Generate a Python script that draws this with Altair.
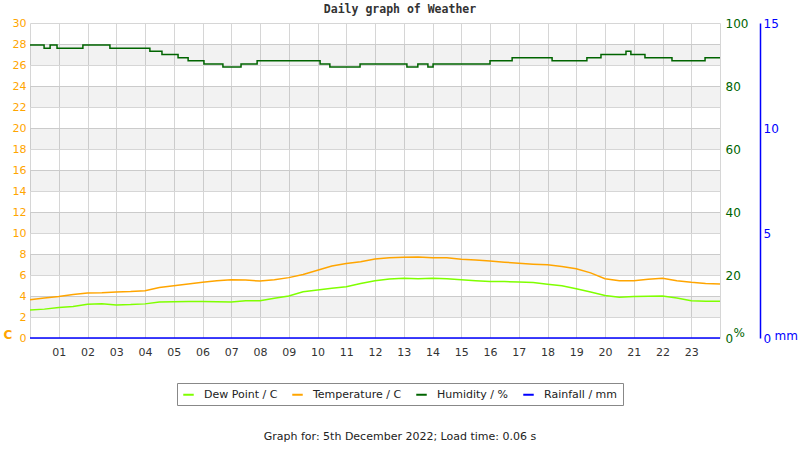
import altair as alt
import pandas as pd

# ---- data ----
half_hours = [i * 0.5 for i in range(49)]
temperature = [3.65, 3.8, 3.95, 4.15, 4.28, 4.3, 4.38, 4.42, 4.5, 4.8, 4.98, 5.15, 5.3, 5.45,
               5.55, 5.52, 5.42, 5.55, 5.75, 6.05, 6.45, 6.85, 7.1, 7.27, 7.52, 7.65, 7.7,
               7.72, 7.65, 7.65, 7.5, 7.42, 7.33, 7.22, 7.12, 7.03, 6.97, 6.8, 6.6, 6.2,
               5.65, 5.45, 5.45, 5.6, 5.68, 5.45, 5.3, 5.2, 5.15]
dew_point = [2.67, 2.75, 2.9, 3.0, 3.22, 3.25, 3.15, 3.18, 3.25, 3.42, 3.45, 3.48, 3.48, 3.45,
             3.43, 3.55, 3.55, 3.78, 4.0, 4.4, 4.57, 4.73, 4.88, 5.2, 5.45, 5.62, 5.68,
             5.65, 5.68, 5.65, 5.55, 5.45, 5.37, 5.37, 5.33, 5.28, 5.12, 4.98, 4.7, 4.38,
             4.05, 3.88, 3.95, 3.97, 4.0, 3.82, 3.55, 3.5, 3.5]
hum_hours = [0, 0.49, 0.70, 0.94, 1.84, 2.78, 4.17, 4.59, 5.15, 5.50, 6.05, 6.71, 7.34, 7.90,
             10.09, 10.43, 11.48, 13.11, 13.49, 13.84, 14.02, 16.0, 16.77, 18.16, 19.37,
             19.86, 20.73, 20.9, 21.39, 22.33, 23.48, 24]
humidity = [93, 92, 93, 92, 93, 92, 91, 90, 89, 88, 87, 86, 87, 88,
            87, 86, 87, 86, 87, 86, 87, 88, 89, 88, 89,
            90, 91, 90, 89, 88, 89, 89]
rain_hours = [0, 24]
rainfall = [0, 0]

series_names = ["Dew Point / C", "Temperature / C", "Humidity / %", "Rainfall / mm"]
series_colors = ["#7fff00", "#ffa500", "#006400", "#0000ff"]
band_low = [2, 6, 10, 14, 18, 22, 26]
band_high = [4, 8, 12, 16, 20, 24, 28]
temp_ticks = list(range(0, 31, 2))
hum_ticks = [0, 20, 40, 60, 80, 100]
rain_ticks = [0, 5, 10, 15]
hour_ticks = list(range(0, 25))

title_text = "Daily graph of Weather"
footer_text = "Graph for: 5th December 2022; Load time: 0.06 s"

# ---- tables ----
td = pd.DataFrame({"hour": half_hours * 2,
                   "value": temperature + dew_point,
                   "series": ["Temperature / C"] * 49 + ["Dew Point / C"] * 49})
hd = pd.DataFrame({"hour": hum_hours, "value": humidity, "series": "Humidity / %"})
rd = pd.DataFrame({"hour": rain_hours, "value": rainfall, "series": "Rainfall / mm"})
bd = pd.DataFrame({"lo": band_low, "hi": band_high, "x0": 0, "x1": 24})
fd = pd.DataFrame({"t": [footer_text]})

FONT = "DejaVu Sans"
GRID = "#d6d6d6"

xscale = alt.Scale(domain=[0, 24], nice=False, zero=False)
xaxis = alt.Axis(values=hour_ticks, grid=True, gridColor=GRID, ticks=False, domain=False,
                 labelExpr="datum.value > 0 && datum.value < 24 ? (datum.value < 10 ? '0' + datum.value : '' + datum.value) : ''",
                 labelColor="#333", labelFont=FONT, labelFontSize=11, labelPadding=8,
                 labelFlush=False, labelOverlap=False, title=None)
tscale = alt.Scale(domain=[0, 30], nice=False, zero=False)
taxis = alt.Axis(values=temp_ticks, grid=True, gridColor=GRID, ticks=False, domain=False,
                 labelColor="#ffa500", labelFont=FONT, labelFontSize=11, labelPadding=4,
                 labelOverlap=False, title="C", titleAngle=0, titleColor="#ffa500",
                 titleFont=FONT, titleFontSize=12, titleFontWeight="bold",
                 titleAlign="left", titleBaseline="middle", titleX=-27, titleY=311)

color = alt.Color("series:N",
                  scale=alt.Scale(domain=series_names, range=series_colors),
                  legend=alt.Legend(title=None, orient="none", legendX=147, legendY=360,
                                    direction="horizontal", columns=4, symbolType="stroke",
                                    symbolSize=110, symbolStrokeWidth=2, labelOffset=9,
                                    columnPadding=10, padding=5, strokeColor="#888",
                                    fillColor="white", labelFont=FONT, labelFontSize=11,
                                    labelColor="#222"))

bands = alt.Chart(bd).mark_rect(color="black", opacity=0.05).encode(
    x=alt.X("x0:Q", scale=xscale, axis=xaxis),
    x2="x1:Q",
    y=alt.Y("lo:Q", scale=tscale, axis=taxis),
    y2="hi:Q")

tlines = alt.Chart(td).mark_line(strokeWidth=1.5).encode(
    x=alt.X("hour:Q", scale=xscale, axis=xaxis),
    y=alt.Y("value:Q", scale=tscale, axis=taxis),
    color=color,
    order=alt.Order("hour:Q"))

footer = alt.Chart(fd).mark_text(font=FONT, fontSize=11, color="#222", align="center",
                                 baseline="middle").encode(
    x=alt.value(370), y=alt.value(414), text="t:N")

left = alt.layer(bands, tlines, footer)

hline = alt.Chart(hd).mark_line(strokeWidth=1.5, interpolate="step-after").encode(
    x=alt.X("hour:Q", scale=xscale, axis=xaxis),
    y=alt.Y("value:Q", scale=alt.Scale(domain=[0, 100], nice=False),
            axis=alt.Axis(orient="right", values=hum_ticks, grid=False, ticks=False,
                          domain=False, labelColor="#006400", labelFont=FONT,
                          labelFontSize=12, labelPadding=5, labelOverlap=False,
                          title="%", titleAngle=0, titleColor="#006400", titleFont=FONT,
                          titleFontSize=12, titleFontWeight="normal", titleAlign="left",
                          titleBaseline="middle", titleX=13, titleY=309)),
    color=color)

rline = alt.Chart(rd).mark_line(strokeWidth=1.5).encode(
    x=alt.X("hour:Q", scale=xscale, axis=xaxis),
    y=alt.Y("value:Q", scale=alt.Scale(domain=[0, 15], nice=False),
            axis=alt.Axis(orient="right", offset=40, values=rain_ticks, grid=False,
                          ticks=False, domain=True, domainColor="#0000ff", domainWidth=1.5,
                          labelColor="#0000ff", labelFont=FONT, labelFontSize=12,
                          labelPadding=3, labelOverlap=False, title="mm", titleAngle=0,
                          titleColor="#0000ff", titleFont=FONT, titleFontSize=12,
                          titleFontWeight="normal", titleAlign="left",
                          titleBaseline="middle", titleX=14, titleY=312)),
    color=color)

chart = alt.layer(left, hline, rline).resolve_scale(y="independent").properties(
    width=690, height=315,
    padding={"left": 30, "top": 23, "right": 80, "bottom": 112},
    autosize=alt.AutoSizeParams(type="none"),
    title=alt.TitleParams(title_text, font="DejaVu Sans Mono", fontSize=11.5,
                          fontWeight="bold", color="#333", anchor="middle", dx=25,
                          offset=2),
    background="white",
).configure_view(stroke=None)

chart.save("out.html", embed_options={"renderer": "svg", "actions": False})
